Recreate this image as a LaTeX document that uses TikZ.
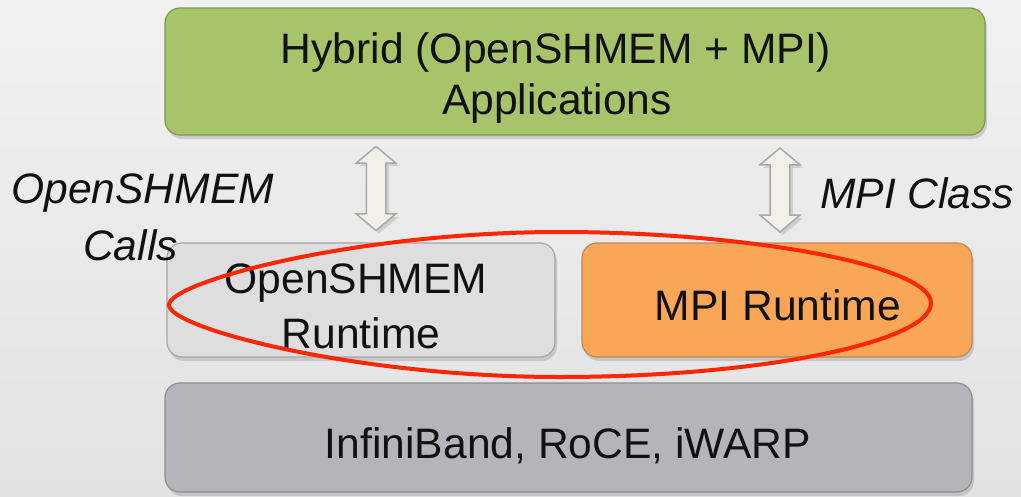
\documentclass[tikz,border=0pt]{standalone}
\usepackage{fontspec}
\setmainfont{Liberation Sans}
\usetikzlibrary{shapes.arrows,shadows}
\definecolor{bgtop}{HTML}{F1F1F1}
\definecolor{bgbot}{HTML}{E2E2E2}
\definecolor{appgreen}{HTML}{A8C46A}
\definecolor{appborder}{HTML}{7F9550}
\definecolor{shmfill}{HTML}{DEDEDE}
\definecolor{shmborder}{HTML}{A5A5A5}
\definecolor{mpifill}{HTML}{F9A656}
\definecolor{mpiborder}{HTML}{B98A5C}
\definecolor{ibfill}{HTML}{B4B4BA}
\definecolor{ibborder}{HTML}{8E8E92}
\definecolor{arrowfill}{HTML}{F1F1EA}
\definecolor{arrowborder}{HTML}{A9A9A4}
\definecolor{ovalred}{HTML}{FF2600}
\definecolor{txt}{HTML}{111111}
\begin{document}
\begin{tikzpicture}[x=1pt,y=-1pt,
  layerbox/.style={rounded corners=15pt, line width=1.2pt, inner sep=0pt,
    drop shadow={shadow xshift=2pt, shadow yshift=-4pt, opacity=0.3}},
  boxtext/.style={font=\fontsize{42.6}{51}\selectfont, text=txt, inner sep=0pt, anchor=base},
  blockarrow/.style={double arrow, draw=arrowborder, fill=arrowfill, line width=1.5pt,
    rotate=90, inner sep=9pt, double arrow head extend=10pt, double arrow tip angle=100,
    drop shadow={shadow xshift=3pt, shadow yshift=-3pt, opacity=0.25}},
  sidelabel/.style={font=\fontsize{42.6}{51}\selectfont\itshape, text=txt, inner sep=0pt, anchor=base west}]
\shade[top color=bgtop, bottom color=bgbot] (0,0) rectangle (1021,496);
\useasboundingbox (0,0) rectangle (1021,496);

\node[layerbox, draw=appborder, fill=appgreen, minimum width=820pt, minimum height=127pt] (app) at (575,71.5) {};
\node[layerbox, draw=shmborder, fill=shmfill, minimum width=388pt, minimum height=114pt] (shm) at (361,300) {};
\node[layerbox, draw=mpiborder, fill=mpifill, minimum width=390pt, minimum height=114pt] (mpi) at (777,300) {};
\node[layerbox, draw=ibborder, fill=ibfill, minimum width=807pt, minimum height=109pt] (ib) at (568.5,437.5) {};

\node[boxtext] (apptexta) at (556,63) {Hybrid (OpenSHMEM + MPI)};
\node[boxtext] (apptextb) at (557,114) {Applications};
\node[boxtext] (shmtexta) at (356,293) {OpenSHMEM};
\node[boxtext] (shmtextb) at (361,348) {Runtime};
\node[boxtext] (mpitext) at (778,320) {MPI Runtime};
\node[boxtext] (ibtext) at (568,458) {InfiniBand, RoCE, iWARP};

\node[blockarrow, minimum height=84pt, minimum width=38pt] (arrowshm) at (376,188.5) {};
\node[blockarrow, minimum height=84pt, minimum width=40pt] (arrowmpi) at (780,190) {};

\node[sidelabel] (lblcalls1) at (11,203) {OpenSHMEM};
\node[sidelabel] (lblcalls2) at (83,260) {Calls};
\node[sidelabel] (lblmpi) at (820,208) {MPI Class};

\coordinate (ovaltop) at (560,232);
\coordinate (ovalleft) at (169,305);
\coordinate (ovalbottom) at (560,377);
\coordinate (ovalright) at (931,303);
\draw[ovalred, line width=4pt]
  (ovaltop) .. controls (355,232) and (169,282) .. (ovalleft)
  .. controls (169,328) and (355,377) .. (ovalbottom)
  .. controls (760,377) and (931,342) .. (ovalright)
  .. controls (931,266) and (750,232) .. (ovaltop) -- cycle;
\end{tikzpicture}
\end{document}
